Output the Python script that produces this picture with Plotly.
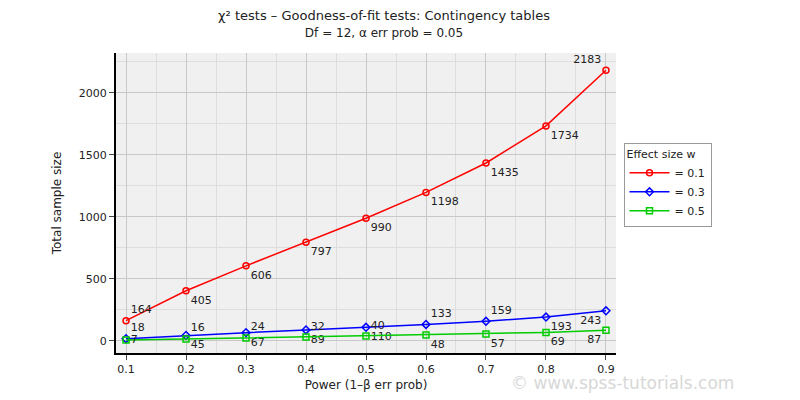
import plotly.graph_objects as go

power = [0.1, 0.2, 0.3, 0.4, 0.5, 0.6, 0.7, 0.8, 0.9]
n_w01 = [164, 405, 606, 797, 990, 1198, 1435, 1734, 2183]
n_w03 = [18, 45, 67, 89, 110, 133, 159, 193, 243]
n_w05 = [7, 16, 24, 32, 40, 48, 57, 69, 87]

pos_red = ["top right"] + ["bottom right"] * 7 + ["top left"]
pos_blue = ["top right", "bottom right", "bottom right", "bottom right", "bottom right",
            "top right", "top right", "bottom right", "bottom left"]
pos_green = ["middle right", "top right", "top right", "top right", "top right",
             "bottom right", "bottom right", "bottom right", "bottom left"]

fig = go.Figure()
for name, y, col, sym, pos in [("= 0.1", n_w01, "#ff0000", "circle-open", pos_red),
                               ("= 0.3", n_w03, "#0000ff", "diamond-open", pos_blue),
                               ("= 0.5", n_w05, "#00cc00", "square-open", pos_green)]:
    fig.add_trace(go.Scatter(
        x=power, y=y, name=name, mode="lines+markers+text",
        text=[str(v) for v in y], textposition=pos,
        textfont=dict(size=11, color="#222222"),
        line=dict(color=col, width=1.5),
        marker=dict(symbol=sym, size=6, color=col, line=dict(width=1.5, color=col)),
    ))

fig.update_layout(
    width=800, height=400,
    font=dict(family="DejaVu Sans", size=11, color="#222222"),
    title=dict(text="χ² tests – Goodness-of-fit tests: Contingency tables<br>"
                    "<span style='font-size:12px'>Df = 12, α err prob = 0.05</span>",
               x=0.47, xanchor="center", y=0.97, yanchor="top", font=dict(size=13)),
    margin=dict(l=108, r=192, t=45, b=55),
    paper_bgcolor="white", plot_bgcolor="#f0f0f0",
    legend=dict(title=dict(text="Effect size w", font=dict(size=11)),
                x=1.015, y=0.7, xanchor="left", yanchor="top",
                bgcolor="white", bordercolor="#999999", borderwidth=1,
                font=dict(size=11), itemwidth=40, tracegroupgap=14),
    showlegend=True,
)
fig.update_xaxes(range=[0.0833, 0.9167], tickvals=power, title_text="Power (1–β err prob)",
                 title_font=dict(size=12),
                 showgrid=True, gridcolor="#c8c8c8", minor=dict(showgrid=True, gridcolor="#dddddd", dtick=0.05),
                 ticks="outside", showline=True, linecolor="black", linewidth=2, zeroline=False,
                 title_standoff=5)
fig.update_yaxes(range=[-97, 2322], tickvals=[0, 500, 1000, 1500, 2000], title_text="Total sample size",
                 title_font=dict(size=12),
                 showgrid=True, gridcolor="#c8c8c8", minor=dict(showgrid=True, gridcolor="#dddddd", dtick=250),
                 ticks="outside", showline=True, linecolor="black", linewidth=2, zeroline=False)
fig.add_annotation(text="© www.spss-tutorials.com", xref="paper", yref="paper", x=1.24, y=-0.14,
                   xanchor="right", yanchor="bottom", showarrow=False,
                   font=dict(size=17, color="#d8d8d8"))
fig.write_html("out.html")
